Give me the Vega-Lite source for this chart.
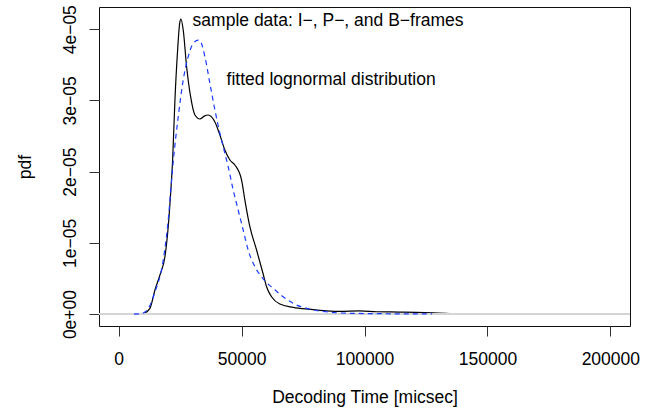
{
  "$schema": "https://vega.github.io/schema/vega-lite/v6.json",
  "width": 531,
  "height": 319,
  "autosize": {"type": "none"},
  "padding": {"left": 99, "top": 7, "right": 27, "bottom": 87},
  "background": "white",
  "config": {
    "view": {"stroke": "#111", "strokeWidth": 1},
    "font": "Liberation Sans",
    "axis": {
      "domain": false,
      "grid": false,
      "tickColor": "#333",
      "tickSize": 10,
      "labelFont": "Liberation Sans",
      "labelFontSize": 17.5,
      "labelColor": "#000",
      "titleFont": "Liberation Sans",
      "titleFontSize": 17.5,
      "titleFontWeight": "normal",
      "titleColor": "#000"
    }
  },
  "datasets": {
    "kde": [
      {"x": 10000, "y": 0},
      {"x": 12720, "y": 8.0e-7},
      {"x": 14760, "y": 3.37e-6},
      {"x": 16790, "y": 5.48e-6},
      {"x": 18820, "y": 8.05e-6},
      {"x": 20160, "y": 1.226e-5},
      {"x": 21140, "y": 1.695e-5},
      {"x": 21950, "y": 2.163e-5},
      {"x": 22890, "y": 3.006e-5},
      {"x": 23980, "y": 3.708e-5},
      {"x": 24800, "y": 4.08e-5},
      {"x": 25330, "y": 4.143e-5},
      {"x": 26260, "y": 3.989e-5},
      {"x": 27640, "y": 3.473e-5},
      {"x": 29270, "y": 3.052e-5},
      {"x": 31020, "y": 2.795e-5},
      {"x": 33050, "y": 2.739e-5},
      {"x": 34800, "y": 2.78e-5},
      {"x": 36420, "y": 2.795e-5},
      {"x": 39150, "y": 2.697e-5},
      {"x": 41180, "y": 2.514e-5},
      {"x": 43210, "y": 2.303e-5},
      {"x": 45250, "y": 2.163e-5},
      {"x": 47280, "y": 2.093e-5},
      {"x": 50000, "y": 1.882e-5},
      {"x": 51340, "y": 1.601e-5},
      {"x": 53370, "y": 1.226e-5},
      {"x": 56100, "y": 8.99e-6},
      {"x": 58780, "y": 5.62e-6},
      {"x": 60160, "y": 3.83e-6},
      {"x": 62190, "y": 2.43e-6},
      {"x": 65570, "y": 1.40e-6},
      {"x": 70980, "y": 9.4e-7},
      {"x": 77760, "y": 6.6e-7},
      {"x": 84550, "y": 4.4e-7},
      {"x": 90000, "y": 3.6e-7},
      {"x": 98000, "y": 4.5e-7},
      {"x": 105000, "y": 3.2e-7},
      {"x": 114000, "y": 2.8e-7},
      {"x": 121000, "y": 2.4e-7},
      {"x": 130000, "y": 1.4e-7},
      {"x": 138000, "y": 4e-8},
      {"x": 145000, "y": 0},
      {"x": 208000, "y": 0}
    ],
    "fit": [
      {"x": 6220, "y": 0},
      {"x": 8660, "y": 3e-8},
      {"x": 10690, "y": 2.8e-7},
      {"x": 12720, "y": 1.2e-6},
      {"x": 14760, "y": 3.09e-6},
      {"x": 18130, "y": 7.58e-6},
      {"x": 20160, "y": 1.32e-5},
      {"x": 21540, "y": 1.882e-5},
      {"x": 22190, "y": 2.135e-5},
      {"x": 24230, "y": 2.771e-5},
      {"x": 26260, "y": 3.287e-5},
      {"x": 28290, "y": 3.614e-5},
      {"x": 30320, "y": 3.802e-5},
      {"x": 32360, "y": 3.848e-5},
      {"x": 33050, "y": 3.84e-5},
      {"x": 35080, "y": 3.614e-5},
      {"x": 37110, "y": 3.24e-5},
      {"x": 39150, "y": 2.865e-5},
      {"x": 41180, "y": 2.538e-5},
      {"x": 43210, "y": 2.257e-5},
      {"x": 44550, "y": 2.069e-5},
      {"x": 46580, "y": 1.742e-5},
      {"x": 48620, "y": 1.461e-5},
      {"x": 50650, "y": 1.18e-5},
      {"x": 52680, "y": 8.99e-6},
      {"x": 55410, "y": 6.64e-6},
      {"x": 58130, "y": 5.24e-6},
      {"x": 60160, "y": 4.42e-6},
      {"x": 62850, "y": 3.61e-6},
      {"x": 66910, "y": 2.43e-6},
      {"x": 70980, "y": 1.5e-6},
      {"x": 77760, "y": 7.0e-7},
      {"x": 84550, "y": 3.2e-7},
      {"x": 88620, "y": 1.8e-7},
      {"x": 95370, "y": 1.0e-7},
      {"x": 108940, "y": 4e-8},
      {"x": 127500, "y": 2e-8}
    ],
    "notes": [
      {"x": 30080, "y": 4.045e-5, "label": "sample data: I−, P−, and B−frames"},
      {"x": 43900, "y": 3.216e-5, "label": "fitted lognormal distribution"}
    ]
  },
  "layer": [
    {
      "data": {"name": "kde"},
      "mark": {"type": "line", "color": "#000", "strokeWidth": 1.2, "clip": true, "interpolate": "monotone"},
      "encoding": {
        "x": {
          "field": "x", "type": "quantitative",
          "scale": {"domain": [-8000, 208000], "nice": false, "zero": false},
          "axis": {
            "values": [0, 50000, 100000, 150000, 200000],
            "format": "d",
            "labelPadding": 14,
            "labelBaseline": "top",
            "title": "Decoding Time [micsec]",
            "titleBaseline": "alphabetic",
            "titleY": 76.5
          }
        },
        "y": {
          "field": "y", "type": "quantitative",
          "scale": {"domain": [-1.68e-6, 4.312e-5], "nice": false, "zero": false},
          "axis": {
            "values": [0, 1e-5, 2e-5, 3e-5, 4e-5],
            "labelExpr": "datum.value == 0 ? '0e+00' : round(datum.value * 1e5) + 'e−05'",
            "labelAngle": 270,
            "labelAlign": "center",
            "labelBaseline": "alphabetic",
            "labelPadding": 14,
            "title": "pdf",
            "titleAngle": 270,
            "titleAlign": "center",
            "titleBaseline": "alphabetic",
            "titleX": -69,
            "titleY": 159.5
          }
        }
      }
    },
    {
      "data": {"name": "kde"},
      "mark": {"type": "rule", "color": "#d4d4d4", "strokeWidth": 1.5},
      "encoding": {"y": {"datum": 0, "type": "quantitative"}}
    },
    {
      "data": {"name": "fit"},
      "mark": {"type": "line", "color": "#1a3cff", "strokeWidth": 1.2, "strokeDash": [5, 4], "clip": true, "interpolate": "monotone"},
      "encoding": {
        "x": {"field": "x", "type": "quantitative"},
        "y": {"field": "y", "type": "quantitative"}
      }
    },
    {
      "data": {"name": "notes"},
      "mark": {"type": "text", "align": "left", "baseline": "alphabetic", "fontSize": 17.5, "font": "Liberation Sans", "color": "#000"},
      "encoding": {
        "x": {"field": "x", "type": "quantitative"},
        "y": {"field": "y", "type": "quantitative"},
        "text": {"field": "label"}
      }
    }
  ]
}
